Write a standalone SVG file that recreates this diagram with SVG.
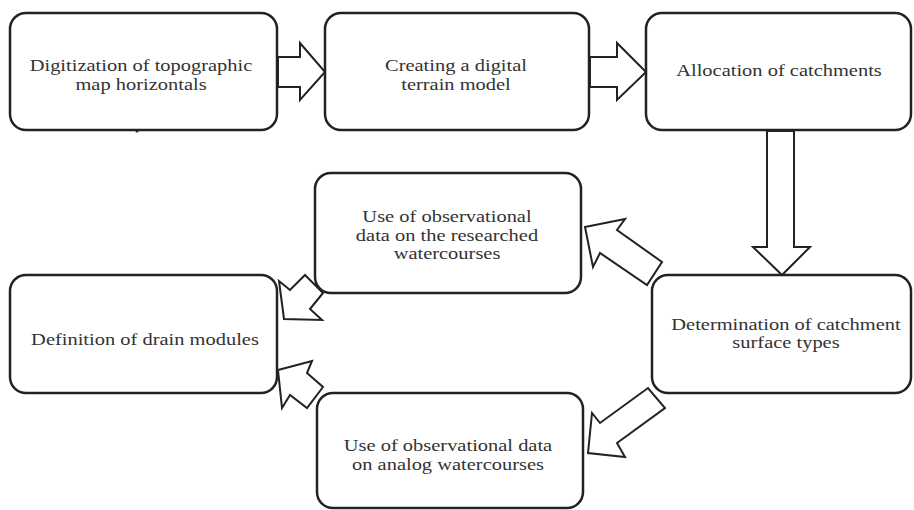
<svg xmlns="http://www.w3.org/2000/svg" width="914" height="510" viewBox="0 0 914 510">
<style>
.box{fill:#fff;stroke:#222;stroke-width:2.5}
.arr{fill:#fff;stroke:#222;stroke-width:2;stroke-linejoin:miter}
text{font-family:"Liberation Serif","Times New Roman",serif;font-size:16.5px;fill:#333;text-anchor:middle}
</style>
<rect width="914" height="510" fill="#fff"/>
<g id="n1"><rect class="box" x="10" y="13" width="267" height="117" rx="16"/>
<text transform="translate(141,71) scale(1.24,1)">Digitization of topographic</text>
<text transform="translate(141,89.5) scale(1.24,1)">map horizontals</text></g>
<g id="n2"><rect class="box" x="325" y="13" width="264" height="117" rx="16"/>
<text transform="translate(456,71) scale(1.24,1)">Creating a digital</text>
<text transform="translate(456,89.5) scale(1.24,1)">terrain model</text></g>
<g id="n3"><rect class="box" x="646" y="13" width="265" height="117" rx="16"/>
<text transform="translate(779,76) scale(1.24,1)">Allocation of catchments</text></g>
<g id="n4"><rect class="box" x="315" y="173" width="266" height="120" rx="16"/>
<text transform="translate(447,222) scale(1.24,1)">Use of observational</text>
<text transform="translate(447,240.5) scale(1.24,1)">data on the researched</text>
<text transform="translate(447,259) scale(1.24,1)">watercourses</text></g>
<g id="n5"><rect class="box" x="652" y="275" width="259" height="118" rx="16"/>
<text transform="translate(786,329.5) scale(1.24,1)">Determination of catchment</text>
<text transform="translate(786,348) scale(1.24,1)">surface types</text></g>
<g id="n6"><rect class="box" x="10" y="275" width="267" height="118" rx="16"/>
<text transform="translate(145,345) scale(1.24,1)">Definition of drain modules</text></g>
<g id="n7"><rect class="box" x="317" y="393" width="266" height="115" rx="16"/>
<text transform="translate(448,451) scale(1.24,1)">Use of observational data</text>
<text transform="translate(448,469.5) scale(1.24,1)">on analog watercourses</text></g>
<g id="connectors">
<polygon class="arr" points="278,57 300,57 300,43 325,72 300,100 300,87 278,87"/>
<polygon class="arr" points="590,57 617,57 617,43 646,72 617,100 617,87 590,87"/>
<polygon class="arr" points="767,131 794,131 794,247 810,247 782,275 753,247 767,247"/>
<polygon class="arr" points="585,227 625,219 617,230 662,262 647,285 600,253 593,267"/>
<polygon class="arr" points="588,453 592,413 600,423 648,388 665,408 617,443 625,457"/>
<polygon class="arr" points="284,319 279,281 290,290 305,275 323,293 310,309 322,320"/>
<polygon class="arr" points="278,370 312,361 307,373 323,387 307,408 290,395 282,408"/>
</g>
<circle cx="137" cy="131" r="1.5" fill="#222"/>
</svg>
